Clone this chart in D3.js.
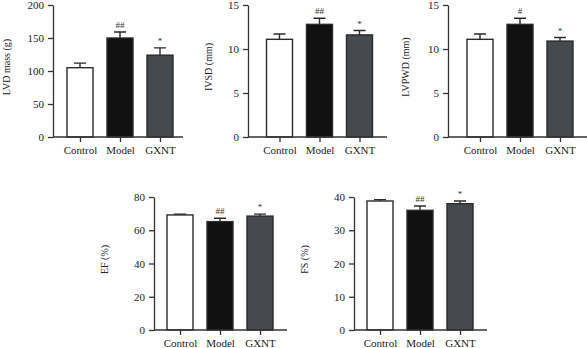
<!DOCTYPE html>
<html>
<head>
<meta charset="utf-8">
<script src="https://cdn.jsdelivr.net/npm/d3@7"></script>
<style>
	body { margin: 0; background: #fff; }
	svg, .axis { font-family: "Liberation Serif", "DejaVu Serif", serif; }
	svg { display: block; }
	.axis path, .axis line { stroke: #333; stroke-width: 1.3; }
	.axis text { font-size: 11px; fill: #222; }
</style>
</head>
<body>
<div id="chart"></div>
<script>
// groups and values
let groups = ["Control", "Model", "GXNT"];

let lvdMass = [105, 150, 124];
let lvdMassErr = [7, 9, 11];
let lvdMassSig = ["", "##", "*"];

let ivsd = [11.1, 12.8, 11.6];
let ivsdErr = [0.6, 0.7, 0.5];
let ivsdSig = ["", "##", "*"];

let lvpwd = [11.1, 12.8, 10.9];
let lvpwdErr = [0.6, 0.7, 0.4];
let lvpwdSig = ["", "#", "*"];

let ef = [69.2, 65.2, 68.5];
let efErr = [0.5, 2.0, 1.2];
let efSig = ["", "##", "*"];

let fs = [38.8, 36.0, 38.0];
let fsErr = [0.4, 1.3, 0.8];
let fsSig = ["", "##", "*"];

let barColors = ["#ffffff", "#111111", "#46494d"];

// panel layout (axis x, axis end, first bar centre offset, top/bottom of the y range)
let panels = [
	{label: "LVD mass (g)", values: lvdMass, err: lvdMassErr, sig: lvdMassSig, max: 200, ticks: [0, 50, 100, 150, 200],
		ax: 53, axEnd: 183, c0: 27, top: 5, bottom: 137, labelX: 8},
	{label: "IVSD (mm)", values: ivsd, err: ivsdErr, sig: ivsdSig, max: 15, ticks: [0, 5, 10, 15],
		ax: 248, axEnd: 387, c0: 31.5, top: 5, bottom: 137, labelX: 210},
	{label: "LVPWD (mm)", values: lvpwd, err: lvpwdErr, sig: lvpwdSig, max: 15, ticks: [0, 5, 10, 15],
		ax: 448, axEnd: 587, c0: 32, top: 5, bottom: 137, labelX: 407},
	{label: "EF (%)", values: ef, err: efErr, sig: efSig, max: 80, ticks: [0, 20, 40, 60, 80],
		ax: 154, axEnd: 287, c0: 26, top: 197, bottom: 330, labelX: 106},
	{label: "FS (%)", values: fs, err: fsErr, sig: fsSig, max: 40, ticks: [0, 10, 20, 30, 40],
		ax: 354, axEnd: 487, c0: 26, top: 197, bottom: 330, labelX: 306}
];

let svg = d3.select("#chart").append("svg")
	.attr("width", 587)
	.attr("height", 348);

panels.forEach(p => {
	let g = svg.append("g");

	let x = d3.scalePoint()
		.domain(groups)
		.range([p.ax + p.c0, p.ax + p.c0 + 80]);
	let y = d3.scaleLinear()
		.domain([0, p.max])
		.range([p.bottom, p.top]);
	let bw = 26;

	// bars
	g.selectAll(".bar")
		.data(groups)
		.enter().append("rect")
		.attr("class", "bar")
		.attr("x", d => x(d) - bw / 2)
		.attr("y", (d, i) => y(p.values[i]))
		.attr("width", bw)
		.attr("height", (d, i) => y(0) - y(p.values[i]))
		.attr("fill", (d, i) => barColors[i])
		.attr("stroke", "#2a2a2a")
		.attr("stroke-width", 1.4);

	// upper error bars
	g.selectAll(".err")
		.data(groups)
		.enter().append("path")
		.attr("class", "err")
		.attr("d", (d, i) => {
			let yt = y(p.values[i] + p.err[i]);
			return `M${x(d)},${y(p.values[i])}V${yt}M${x(d) - 6},${yt}H${x(d) + 6}`;
		})
		.attr("fill", "none")
		.attr("stroke", "#2a2a2a")
		.attr("stroke-width", 1.4);

	// significance marks
	g.selectAll(".sig")
		.data(groups)
		.enter().append("text")
		.attr("class", "sig")
		.attr("x", d => x(d))
		.attr("y", (d, i) => y(p.values[i] + p.err[i]) - 4)
		.attr("text-anchor", "middle")
		.attr("font-size", "9px")
		.attr("fill", "#333")
		.text((d, i) => p.sig[i]);

	// axes
	let yAxis = d3.axisLeft(y)
		.tickValues(p.ticks)
		.tickSize(5)
		.tickSizeOuter(0)
		.tickPadding(4);
	g.append("g")
		.attr("class", "axis")
		.attr("transform", `translate(${p.ax},0)`)
		.call(yAxis);

	let xAxis = d3.axisBottom(x)
		.tickSize(5)
		.tickSizeOuter(0)
		.tickPadding(4);
	let xg = g.append("g")
		.attr("class", "axis")
		.attr("transform", `translate(0,${p.bottom})`)
		.call(xAxis);
	xg.select(".domain").attr("d", `M${p.ax},0H${p.axEnd}`);

	// y label
	g.append("text")
		.attr("transform", `translate(${p.labelX},${(p.top + p.bottom) / 2 - 4}) rotate(-90)`)
		.attr("text-anchor", "middle")
		.attr("dominant-baseline", "middle")
		.attr("font-size", "10px")
		.attr("fill", "#222")
		.text(p.label);
});
</script>
</body>
</html>
